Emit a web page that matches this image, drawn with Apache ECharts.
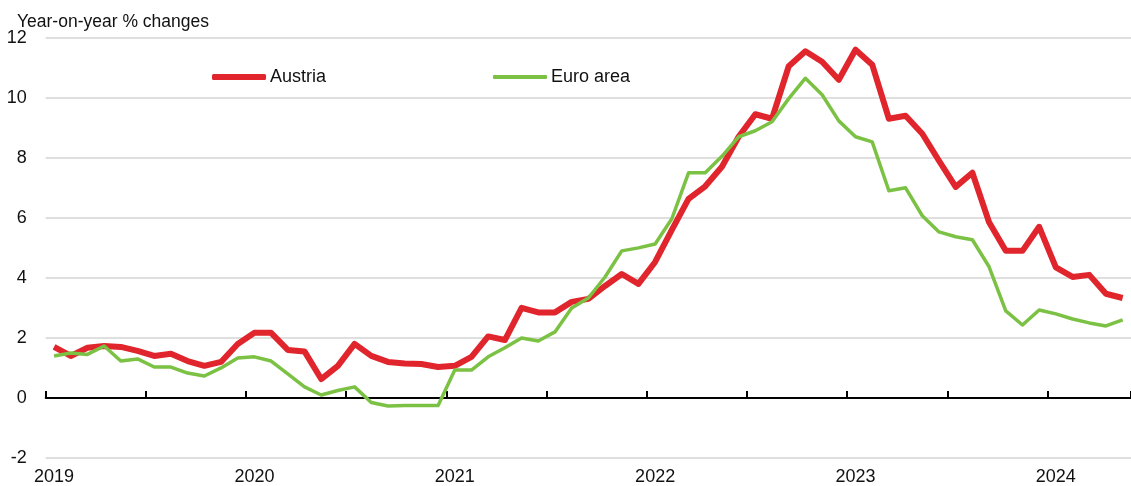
<!DOCTYPE html>
<html>
<head>
<meta charset="utf-8">
<script src="https://cdn.jsdelivr.net/npm/echarts@6/dist/echarts.min.js"></script>
<style>
html,body{margin:0;padding:0;background:#fff;}
#chart{width:1131px;height:486px;}
</style>
</head>
<body>
<div id="chart"></div>
<script>
const years = ['2019','2020','2021','2022','2023','2024'];
const months = [];
for (const y of years) { for (let m = 1; m <= 12; m++) { months.push(y + '-' + (m < 10 ? '0' + m : m)); } }
const categories = months.slice(0, 65); // Jan 2019 .. May 2024

const austria = [
  1.7, 1.4, 1.67, 1.73, 1.7, 1.57, 1.4, 1.47, 1.23, 1.07, 1.2, 1.8,
  2.17, 2.17, 1.6, 1.55, 0.63, 1.07, 1.8, 1.4, 1.2, 1.15, 1.13, 1.03,
  1.07, 1.37, 2.05, 1.93, 3.0, 2.85, 2.85, 3.2, 3.3, 3.73, 4.13, 3.8,
  4.53, 5.6, 6.63, 7.05, 7.7, 8.7, 9.45, 9.3, 11.05, 11.55, 11.2, 10.6,
  11.6, 11.1, 9.3, 9.4, 8.8, 7.9, 7.03, 7.5, 5.85, 4.9, 4.9, 5.7,
  4.35, 4.03, 4.1, 3.47, 3.33
];
const euroArea = [
  1.4, 1.5, 1.45, 1.73, 1.23, 1.3, 1.03, 1.03, 0.83, 0.73, 1.0, 1.33,
  1.37, 1.23, 0.8, 0.37, 0.1, 0.25, 0.37, -0.15, -0.27, -0.25, -0.25, -0.25,
  0.93, 0.93, 1.37, 1.67, 2.0, 1.9, 2.2, 3.0, 3.33, 4.03, 4.9, 5.0,
  5.13, 5.97, 7.5, 7.5, 8.05, 8.7, 8.9, 9.2, 9.97, 10.65, 10.1, 9.23,
  8.7, 8.53, 6.9, 7.0, 6.07, 5.53, 5.37, 5.27, 4.37, 2.9, 2.43, 2.93,
  2.8, 2.63, 2.5, 2.4, 2.6
];
const yTicks = [-2, 0, 2, 4, 6, 8, 10, 12];

const FONT = '"Liberation Sans", Arial, sans-serif';
const RED = '#e1252d';
const GREEN = '#7bc143';

const chart = echarts.init(document.getElementById('chart'), null, {renderer: 'canvas'});
chart.setOption({
  animation: false,
  backgroundColor: '#ffffff',
  title: {
    text: 'Year-on-year % changes',
    left: 12, top: 8,
    textStyle: {fontFamily: FONT, fontSize: 17.5, fontWeight: 'normal', color: '#111'}
  },
  legend: [
    {data: ['Austria'], left: 207, top: 63, icon: 'roundRect', itemWidth: 54, itemHeight: 6, itemGap: 4,
     textStyle: {fontFamily: FONT, fontSize: 18, color: '#111', padding: [0,0,0,-1]}},
    {data: ['Euro area'], left: 488, top: 63, icon: 'roundRect', itemWidth: 54, itemHeight: 4, itemGap: 4,
     textStyle: {fontFamily: FONT, fontSize: 18, color: '#111', padding: [0,0,0,-1]}}
  ],
  grid: {left: 45.7, right: -6, top: 37.7, bottom: 27.7, containLabel: false},
  xAxis: [
    {
      type: 'category', data: categories, boundaryGap: true,
      axisLine: {show: true, onZero: true, lineStyle: {color: '#000', width: 2}},
      axisTick: {show: true, inside: true, length: 7, lineStyle: {color: '#000', width: 2},
                 interval: function (i) { return i % 6 === 0; }},
      axisLabel: {show: false},
      splitLine: {show: false}
    },
    {
      type: 'category', data: categories, boundaryGap: true, position: 'bottom',
      axisLine: {show: false, onZero: false},
      axisTick: {show: false},
      axisLabel: {show: true, margin: 10, fontFamily: FONT, fontSize: 18, color: '#111',
                  interval: function (i) { return i % 12 === 0; },
                  formatter: function (v) { return v.slice(0, 4); }},
      splitLine: {show: false}
    }
  ],
  yAxis: {
    type: 'value', min: yTicks[0], max: yTicks[yTicks.length - 1], interval: 2,
    axisLine: {show: false}, axisTick: {show: false},
    axisLabel: {margin: 19, fontFamily: FONT, fontSize: 18, color: '#111'},
    splitLine: {show: true, lineStyle: {color: '#d4d4d4', width: 1.5}}
  },
  series: [
    {name: 'Austria', type: 'line', data: austria, xAxisIndex: 0, showSymbol: false, symbol: 'none',
     lineStyle: {color: RED, width: 6, join: 'round'}, itemStyle: {color: RED}, z: 3},
    {name: 'Euro area', type: 'line', data: euroArea, xAxisIndex: 0, showSymbol: false, symbol: 'none',
     lineStyle: {color: GREEN, width: 3.5, join: 'round'}, itemStyle: {color: GREEN}, z: 4}
  ]
});
</script>
</body>
</html>
